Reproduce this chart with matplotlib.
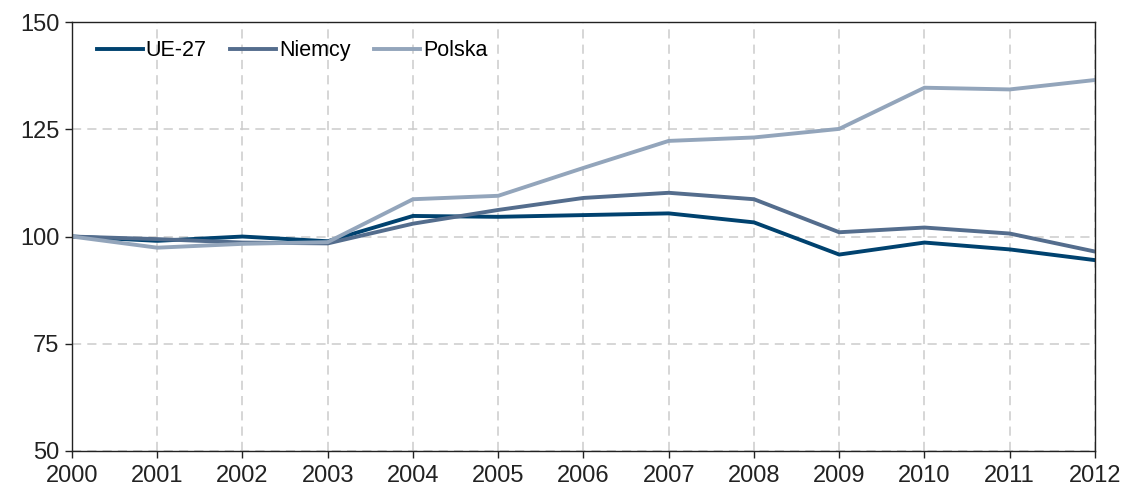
import matplotlib
matplotlib.use("Agg")
import matplotlib.pyplot as plt

years = [2000, 2001, 2002, 2003, 2004, 2005, 2006, 2007, 2008, 2009, 2010, 2011, 2012]
ue27 = [100, 99.0, 100.0, 98.9, 104.8, 104.6, 105.0, 105.4, 103.3, 95.8, 98.6, 97.0, 94.5]
niemcy = [100, 99.4, 98.6, 98.4, 103.0, 106.2, 109.0, 110.2, 108.7, 101.0, 102.1, 100.7, 96.5]
polska = [100, 97.4, 98.3, 98.7, 108.7, 109.5, 116.0, 122.3, 123.1, 125.1, 134.7, 134.3, 136.5]
series_names = ["UE-27", "Niemcy", "Polska"]
colors = ["#00426f", "#546d8d", "#93a5bb"]
yticks = [50, 75, 100, 125, 150]

plt.rcParams['font.family'] = ['Liberation Sans', 'DejaVu Sans']

fig = plt.figure(figsize=(11.25, 4.91), dpi=100)
ax = fig.add_axes([0.064, 0.0815, 0.9093, 0.8735])

for vals, name, c in zip([ue27, niemcy, polska], series_names, colors):
    ax.plot(years, vals, color=c, lw=2.8, label=name, solid_joinstyle='miter')

ax.set_xlim(2000, 2012)
ax.set_ylim(50, 150)
ax.set_xticks(years)
ax.set_yticks(yticks)
ax.tick_params(axis='both', labelsize=17, colors='#222222', length=5, width=1, direction='out')
ax.tick_params(axis='x', pad=5)
ax.tick_params(axis='y', pad=4)
ax.grid(True, color='#cccccc', linestyle=(0, (6, 4)), linewidth=1.1)
ax.set_axisbelow(True)
for s in ax.spines.values():
    s.set_color('#222222')
    s.set_linewidth(1.0)

leg = ax.legend(loc='upper left', ncol=3, frameon=False, fontsize=15.5,
                handlelength=2.15, handletextpad=0.12, columnspacing=1.1,
                borderaxespad=0, bbox_to_anchor=(0.0156, 0.978))

fig.savefig("out.png", dpi=100)
